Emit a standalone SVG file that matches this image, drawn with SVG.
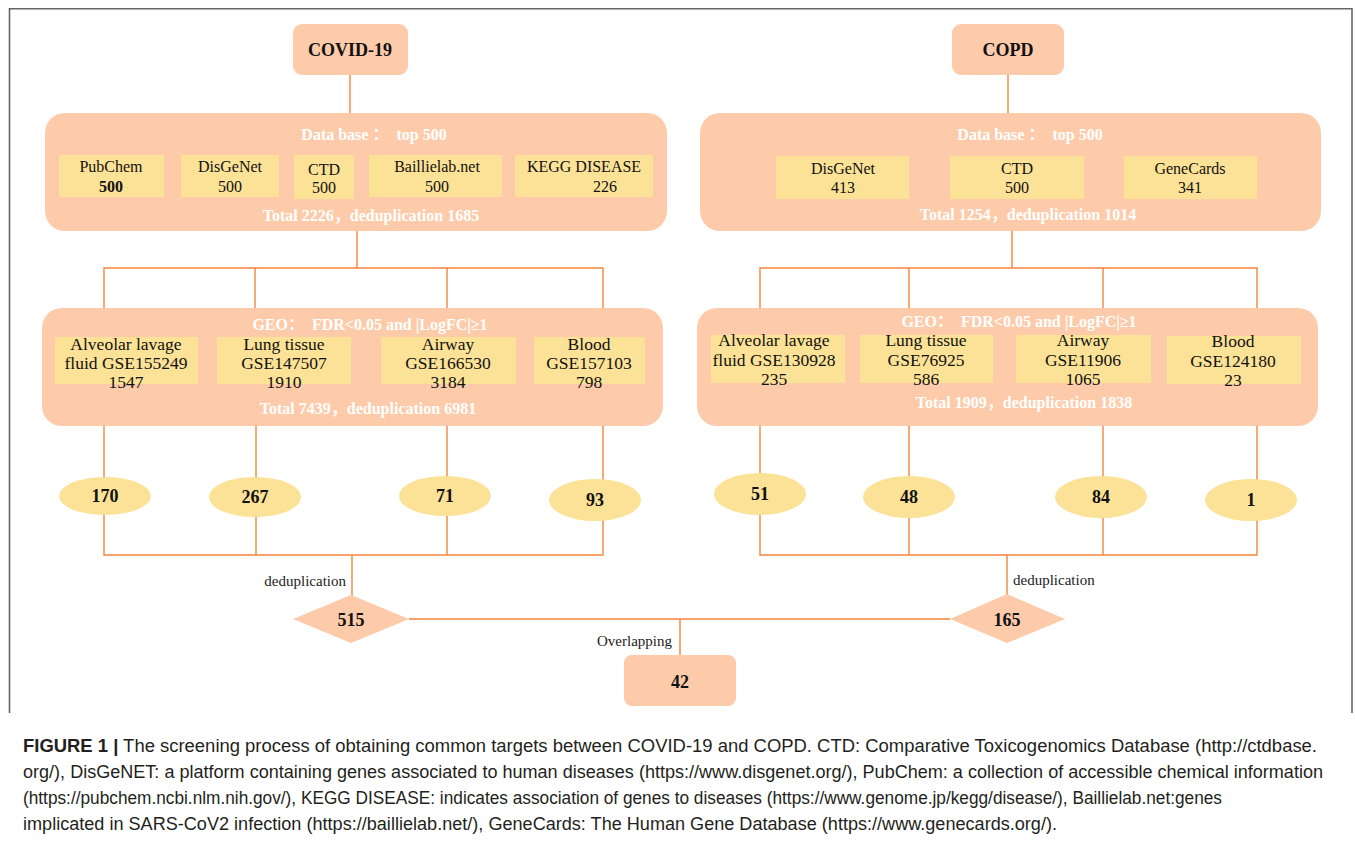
<svg xmlns="http://www.w3.org/2000/svg" width="1355" height="843" viewBox="0 0 1355 843">
  <style>
    .frame { fill: none; stroke: #666; stroke-width: 1.6; }
    .peach { fill: #FDCBAA; }
    .yellow { fill: #FCE296; }
    .wire { fill: none; stroke: #F4843A; stroke-width: 1.4; }
    .serif { font-family: "Liberation Serif", "Noto Sans CJK SC", serif; }
    .head { font-size: 18px; font-weight: bold; fill: #111; text-anchor: middle; }
    .band { font-size: 16px; font-weight: bold; fill: #fff; text-anchor: middle; }
    .cell { font-size: 16px; fill: #111; text-anchor: middle; }
    .geo { font-size: 17.5px; fill: #111; text-anchor: middle; }
    .num { font-size: 18px; font-weight: bold; fill: #111; text-anchor: middle; }
    .note { font-size: 15px; fill: #222; }
    .cap { font-family: "Liberation Sans", Arial, sans-serif; font-size: 17.5px; fill: #231f20; }
  </style>

  <rect width="1355" height="843" fill="#fff"/>
  <!-- figure panel frame -->
  <path class="frame" d="M9.5,713 V8.8 H1352 V713"/>

  <!-- connectors -->
  <g id="connectors">
    <path class="wire" d="M350,75 V113 M1008,75 V113"/>
    <path class="wire" d="M357,231 V268 M104,308 V268 H603 V308 M255,268 V308 M447,268 V308"/>
    <path class="wire" d="M1012,231 V268 M760,308 V268 H1257 V308 M909,268 V308 M1103,268 V308"/>
    <path class="wire" d="M104,426 V555 H603 V426 M256,426 V555 M447,426 V555 M352,555 V597"/>
    <path class="wire" d="M760,426 V555 H1257 V426 M909,426 V555 M1103,426 V555 M1007,555 V597"/>
    <path class="wire" d="M409,619 H950 M680,619 V655"/>
  </g>

  <!-- top level conditions -->
  <g id="covid19">
    <rect class="peach" x="293" y="24" width="115" height="51" rx="9"/>
    <text class="serif head" x="350" y="56">COVID-19</text>
  </g>
  <g id="copd">
    <rect class="peach" x="952" y="24" width="112" height="51" rx="9"/>
    <text class="serif head" x="1008" y="56">COPD</text>
  </g>

  <!-- database panels -->
  <g id="covid-db">
    <rect class="peach" x="45" y="113" width="622" height="118" rx="20"/>
    <text class="serif band" x="374" y="140" xml:space="preserve">Data base ：  top 500</text>
    <rect class="yellow" x="59" y="155" width="105" height="42"/>
    <text class="serif cell" x="111" y="172">PubChem</text>
    <text class="serif cell" x="111" y="192" font-weight="bold">500</text>
    <rect class="yellow" x="181" y="155" width="98" height="42"/>
    <text class="serif cell" x="230" y="172">DisGeNet</text>
    <text class="serif cell" x="230" y="192">500</text>
    <rect class="yellow" x="294" y="155" width="60" height="44"/>
    <text class="serif cell" x="324" y="175">CTD</text>
    <text class="serif cell" x="324" y="193">500</text>
    <rect class="yellow" x="369" y="155" width="133" height="42"/>
    <text class="serif cell" x="437" y="172">Baillielab.net</text>
    <text class="serif cell" x="437" y="192">500</text>
    <rect class="yellow" x="515" y="155" width="138" height="42"/>
    <text class="serif cell" x="584" y="172">KEGG DISEASE</text>
    <text class="serif cell" x="605" y="192">226</text>
    <text class="serif band" x="371" y="221">Total 2226，deduplication 1685</text>
  </g>
  <g id="copd-db">
    <rect class="peach" x="700" y="113" width="621" height="118" rx="20"/>
    <text class="serif band" x="1030" y="140" xml:space="preserve">Data base ：  top 500</text>
    <rect class="yellow" x="776" y="156" width="133" height="43"/>
    <text class="serif cell" x="843" y="174">DisGeNet</text>
    <text class="serif cell" x="843" y="193">413</text>
    <rect class="yellow" x="950" y="156" width="134" height="43"/>
    <text class="serif cell" x="1017" y="174">CTD</text>
    <text class="serif cell" x="1017" y="193">500</text>
    <rect class="yellow" x="1124" y="156" width="133" height="43"/>
    <text class="serif cell" x="1190" y="174">GeneCards</text>
    <text class="serif cell" x="1190" y="193">341</text>
    <text class="serif band" x="1028" y="220">Total 1254，deduplication 1014</text>
  </g>

  <!-- GEO panels -->
  <g id="covid-geo">
    <rect class="peach" x="42" y="308" width="621" height="118" rx="20"/>
    <text class="serif band" x="370" y="330" xml:space="preserve">GEO：  FDR&lt;0.05 and |LogFC|≥1</text>
    <rect class="yellow" x="55" y="337" width="143" height="47"/>
    <text class="serif geo" x="126" y="350">Alveolar lavage</text>
    <text class="serif geo" x="126" y="369">fluid GSE155249</text>
    <text class="serif geo" x="126" y="388">1547</text>
    <rect class="yellow" x="217" y="337" width="134" height="47"/>
    <text class="serif geo" x="284" y="350">Lung tissue</text>
    <text class="serif geo" x="284" y="369">GSE147507</text>
    <text class="serif geo" x="284" y="388">1910</text>
    <rect class="yellow" x="381" y="337" width="135" height="47"/>
    <text class="serif geo" x="448" y="350">Airway</text>
    <text class="serif geo" x="448" y="369">GSE166530</text>
    <text class="serif geo" x="448" y="388">3184</text>
    <rect class="yellow" x="534" y="337" width="111" height="47"/>
    <text class="serif geo" x="589" y="350">Blood</text>
    <text class="serif geo" x="589" y="369">GSE157103</text>
    <text class="serif geo" x="589" y="388">798</text>
    <text class="serif band" x="368" y="414">Total 7439，deduplication 6981</text>
  </g>
  <g id="copd-geo">
    <rect class="peach" x="697" y="308" width="621" height="118" rx="20"/>
    <text class="serif band" x="1019" y="327" xml:space="preserve">GEO：  FDR&lt;0.05 and |LogFC|≥1</text>
    <rect class="yellow" x="711" y="335" width="134" height="48"/>
    <text class="serif geo" x="774" y="346">Alveolar lavage</text>
    <text class="serif geo" x="774" y="366">fluid GSE130928</text>
    <text class="serif geo" x="774" y="385">235</text>
    <rect class="yellow" x="860" y="335" width="133" height="48"/>
    <text class="serif geo" x="926" y="346">Lung tissue</text>
    <text class="serif geo" x="926" y="366">GSE76925</text>
    <text class="serif geo" x="926" y="385">586</text>
    <rect class="yellow" x="1016" y="335" width="135" height="48"/>
    <text class="serif geo" x="1083" y="346">Airway</text>
    <text class="serif geo" x="1083" y="366">GSE11906</text>
    <text class="serif geo" x="1083" y="385">1065</text>
    <rect class="yellow" x="1167" y="336" width="134" height="48"/>
    <text class="serif geo" x="1233" y="347">Blood</text>
    <text class="serif geo" x="1233" y="367">GSE124180</text>
    <text class="serif geo" x="1233" y="386">23</text>
    <text class="serif band" x="1024" y="408">Total 1909，deduplication 1838</text>
  </g>

  <!-- per-dataset target counts -->
  <g id="n170"><ellipse class="yellow" cx="105" cy="496" rx="46" ry="19"/><text class="serif num" x="105" y="502">170</text></g>
  <g id="n267"><ellipse class="yellow" cx="255" cy="497" rx="46" ry="20"/><text class="serif num" x="255" y="503">267</text></g>
  <g id="n71"><ellipse class="yellow" cx="445" cy="496" rx="46" ry="20"/><text class="serif num" x="445" y="502">71</text></g>
  <g id="n93"><ellipse class="yellow" cx="595" cy="500" rx="46" ry="21"/><text class="serif num" x="595" y="506">93</text></g>
  <g id="n51"><ellipse class="yellow" cx="760" cy="494" rx="46" ry="21"/><text class="serif num" x="760" y="500">51</text></g>
  <g id="n48"><ellipse class="yellow" cx="909" cy="497" rx="46" ry="21"/><text class="serif num" x="909" y="503">48</text></g>
  <g id="n84"><ellipse class="yellow" cx="1101" cy="497" rx="46" ry="21"/><text class="serif num" x="1101" y="503">84</text></g>
  <g id="n1"><ellipse class="yellow" cx="1251" cy="500" rx="46" ry="21"/><text class="serif num" x="1251" y="506">1</text></g>

  <!-- merged sets -->
  <g id="covid-merged">
    <text class="serif note" x="346" y="586" text-anchor="end">deduplication</text>
    <polygon class="peach" points="351,595 409,619 351,643 293,619"/>
    <text class="serif num" x="351" y="626">515</text>
  </g>
  <g id="copd-merged">
    <text class="serif note" x="1013" y="585">deduplication</text>
    <polygon class="peach" points="1007,594 1065,619 1007,643 950,619"/>
    <text class="serif num" x="1007" y="626">165</text>
  </g>
  <g id="overlap">
    <text class="serif note" x="672" y="646" text-anchor="end">Overlapping</text>
    <rect class="peach" x="624" y="655" width="112" height="51" rx="8"/>
    <text class="serif num" x="680" y="688">42</text>
  </g>

  <!-- caption -->
  <g id="caption" class="cap">
    <text x="23" y="752" textLength="1294" lengthAdjust="spacingAndGlyphs"><tspan font-weight="bold">FIGURE 1 |</tspan> The screening process of obtaining common targets between COVID-19 and COPD. CTD: Comparative Toxicogenomics Database (http://ctdbase.</text>
    <text x="23" y="778" textLength="1300" lengthAdjust="spacingAndGlyphs">org/), DisGeNET: a platform containing genes associated to human diseases (https://www.disgenet.org/), PubChem: a collection of accessible chemical information</text>
    <text x="23" y="804" textLength="1199" lengthAdjust="spacingAndGlyphs">(https://pubchem.ncbi.nlm.nih.gov/), KEGG DISEASE: indicates association of genes to diseases (https://www.genome.jp/kegg/disease/), Baillielab.net:genes</text>
    <text x="23" y="830" textLength="1034" lengthAdjust="spacingAndGlyphs">implicated in SARS-CoV2 infection (https://baillielab.net/), GeneCards: The Human Gene Database (https://www.genecards.org/).</text>
  </g>
</svg>
